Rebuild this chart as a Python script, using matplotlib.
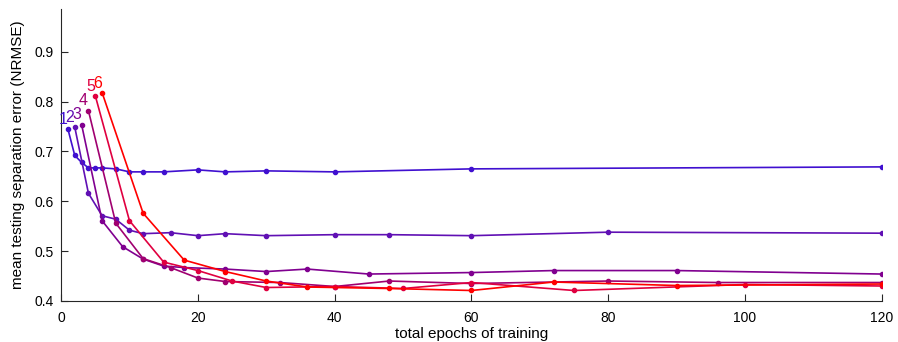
import matplotlib
matplotlib.use("Agg")
import matplotlib.pyplot as plt

plt.rcParams['font.family'] = ['Liberation Sans', 'DejaVu Sans']

# epochs per stage 1..6, points at multiples up to 120 epochs
x1 = [1, 2, 3, 4, 5, 6, 8, 10, 12, 15, 20, 24, 30, 40, 60, 120]
y1 = [0.745, 0.692, 0.678, 0.667, 0.667, 0.667, 0.665, 0.659, 0.659, 0.659,
      0.663, 0.659, 0.661, 0.659, 0.665, 0.669]

x2 = [2, 4, 6, 8, 10, 12, 16, 20, 24, 30, 40, 48, 60, 80, 120]
y2 = [0.749, 0.616, 0.571, 0.564, 0.542, 0.535, 0.537, 0.531, 0.535, 0.531,
      0.533, 0.533, 0.531, 0.538, 0.536]

x3 = [3, 6, 9, 12, 15, 18, 24, 30, 36, 45, 60, 72, 90, 120]
y3 = [0.754, 0.561, 0.509, 0.484, 0.470, 0.467, 0.464, 0.459, 0.464, 0.454,
      0.457, 0.461, 0.461, 0.454]

x4 = [4, 8, 12, 16, 20, 24, 32, 40, 48, 60, 80, 96, 120]
y4 = [0.782, 0.556, 0.485, 0.467, 0.446, 0.439, 0.437, 0.429, 0.440, 0.435,
      0.440, 0.437, 0.437]

x5 = [5, 10, 15, 20, 25, 30, 40, 50, 60, 75, 100, 120]
y5 = [0.812, 0.561, 0.478, 0.461, 0.440, 0.427, 0.429, 0.425, 0.437, 0.421,
      0.433, 0.430]

x6 = [6, 12, 18, 24, 30, 36, 48, 60, 72, 90, 120]
y6 = [0.818, 0.576, 0.482, 0.459, 0.440, 0.428, 0.425, 0.421, 0.438, 0.431,
      0.434]

xs = [x1, x2, x3, x4, x5, x6]
ys = [y1, y2, y3, y4, y5, y6]
names = ['1', '2', '3', '4', '5', '6']
colors = ['#4010d0', '#6010b4', '#800090', '#a00070', '#e00040', '#ff0000']

fig = plt.figure(figsize=(8.98, 3.42), dpi=100)
ax = fig.add_axes([0.068, 0.12, 0.914, 0.854])

for x, y, c, n in zip(xs, ys, colors, names):
    ax.plot(x, y, '-', color=c, lw=1.2, marker='o', ms=3)
    ax.annotate(n, (x[0], y[0]), xytext=(-3.5, 1.5), textcoords='offset points',
                ha='center', va='bottom', color=c, fontsize=11.5)

ax.set_xlim(0, 120)
ax.set_ylim(0.4, 0.986)
ax.set_xticks([0, 20, 40, 60, 80, 100, 120])
ax.set_yticks([0.4, 0.5, 0.6, 0.7, 0.8, 0.9])
ax.set_yticklabels(['0.4', '0.5', '0.6', '0.7', '0.8', '0.9'])
ax.spines['top'].set_visible(False)
ax.spines['right'].set_visible(False)
ax.spines['left'].set_color('#262626')
ax.spines['bottom'].set_color('#262626')
ax.tick_params(direction='in', length=5, labelsize=10, colors='#262626', pad=3)
ax.tick_params(axis='x', pad=7)
ax.tick_params(axis='y', labelcolor='black', pad=5)
ax.tick_params(axis='x', labelcolor='black')

ax.set_xlabel('total epochs of training', fontsize=11, labelpad=2)
ax.set_ylabel('mean testing separation error (NRMSE)', fontsize=11, labelpad=7)

fig.savefig('out.png', dpi=100)
